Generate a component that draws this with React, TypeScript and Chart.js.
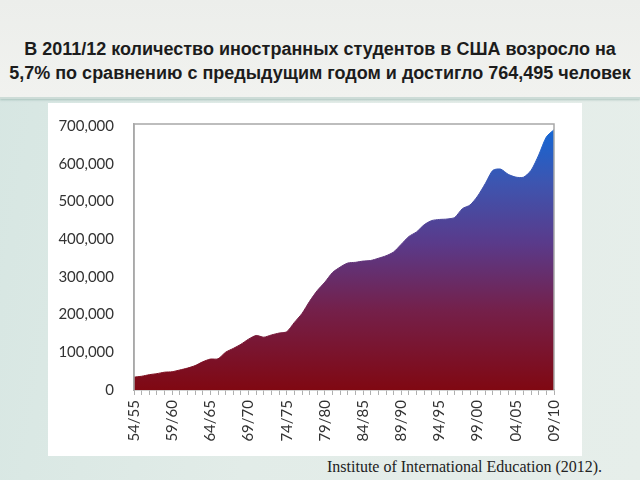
import React, { useEffect, useRef } from "react";
import { Chart, registerables } from "chart.js";

Chart.register(...registerables);

const years: string[] = [
  "54/55","55/56","56/57","57/58","58/59","59/60","60/61","61/62","62/63","63/64",
  "64/65","65/66","66/67","67/68","68/69","69/70","70/71","71/72","72/73","73/74",
  "74/75","75/76","76/77","77/78","78/79","79/80","80/81","81/82","82/83","83/84",
  "84/85","85/86","86/87","87/88","88/89","89/90","90/91","91/92","92/93","93/94",
  "94/95","95/96","96/97","97/98","98/99","99/00","00/01","01/02","02/03","03/04",
  "04/05","05/06","06/07","07/08","08/09","09/10",
];

const students: number[] = [
  34232, 36494, 40666, 43391, 47245, 48486, 53107, 58086, 64705, 74814,
  82045, 82709, 100262, 110315, 121362, 134959, 144708, 140126, 146097, 151066,
  154580, 179344, 203068, 235509, 263938, 286343, 311882, 326299, 336985, 338894,
  342113, 343777, 349609, 356187, 366354, 386851, 407529, 419585, 438618, 449749,
  452635, 453787, 457984, 481280, 490933, 514723, 547867, 582996, 586323, 572509,
  565039, 564766, 582984, 623805, 671616, 690923,
];

const yTicks: number[] = [0, 100000, 200000, 300000, 400000, 500000, 600000, 700000];

const titleLines: string[] = [
  "В 2011/12 количество иностранных студентов в США возросло на",
  "5,7% по сравнению с предыдущим годом и достигло 764,495 человек",
];
const sourceText = "Institute of International Education (2012).";

const tickFont = { family: "Lato, 'Open Sans', sans-serif", size: 15 };

export default function App() {
  const canvasRef = useRef<HTMLCanvasElement | null>(null);

  useEffect(() => {
    const canvas = canvasRef.current;
    if (!canvas) return;

    const makeGradient = (chart: any) => {
      const { ctx, chartArea } = chart;
      if (!chartArea) return "#7a1020";
      const g = ctx.createLinearGradient(0, chartArea.bottom, 0, chartArea.top);
      g.addColorStop(0, "#800812");
      g.addColorStop(0.3, "#74204a");
      g.addColorStop(0.55, "#5a3a8a");
      g.addColorStop(0.78, "#3d55b0");
      g.addColorStop(1, "#1068d8");
      return g;
    };

    const frame = {
      id: "frame",
      afterDatasetsDraw(chart: any) {
        const { ctx, chartArea } = chart;
        ctx.save();
        ctx.strokeStyle = "#a8a8a8";
        ctx.lineWidth = 1.5;
        ctx.beginPath();
        ctx.moveTo(chartArea.left, chartArea.bottom);
        ctx.lineTo(chartArea.left, chartArea.top);
        ctx.lineTo(chartArea.right, chartArea.top);
        ctx.lineTo(chartArea.right, chartArea.bottom);
        ctx.stroke();
        ctx.restore();
      },
    };

    const chart = new Chart(canvas, {
      type: "line",
      data: {
        labels: years,
        datasets: [
          {
            data: students,
            fill: "origin",
            backgroundColor: (c: any) => makeGradient(c.chart),
            borderColor: (c: any) => makeGradient(c.chart),
            borderWidth: 1,
            pointRadius: 0,
            tension: 0.25,
          },
        ],
      },
      options: {
        animation: false,
        responsive: false,
        maintainAspectRatio: false,
        layout: { padding: { top: 13, right: 28, left: 0, bottom: 0 } },
        plugins: {
          legend: { display: false },
          tooltip: { enabled: false },
          title: { display: false },
        },
        scales: {
          x: {
            type: "category",
            offset: false,
            grid: {
              display: true,
              drawOnChartArea: false,
              drawTicks: true,
              tickLength: 5,
              color: "#b0b0b0",
            },
            border: { display: true, color: "#a8a8a8", width: 1.5 },
            ticks: {
              autoSkip: false,
              maxRotation: 90,
              minRotation: 90,
              padding: 5,
              color: "#333333",
              font: tickFont,
              callback: (_v: any, i: number) => (i % 5 === 0 ? years[i] : ""),
            },
            afterFit: (scale: any) => {
              scale.height = 66;
            },
          },
          y: {
            min: 0,
            max: 706000,
            grid: { display: false },
            border: { display: true, color: "#a8a8a8", width: 1.5 },
            afterBuildTicks: (scale: any) => {
              scale.ticks = yTicks.map((v) => ({ value: v }));
            },
            ticks: {
              padding: 12,
              color: "#333333",
              font: tickFont,
              callback: (v: any) => Number(v).toLocaleString("en-US"),
            },
            afterFit: (scale: any) => {
              scale.width = 86;
            },
          },
        },
      },
      plugins: [frame],
    });

    return () => chart.destroy();
  }, []);

  return (
    <div
      style={{
        position: "fixed",
        left: 0,
        top: 0,
        width: 640,
        height: 480,
        overflow: "hidden",
        background: "linear-gradient(100deg, #d6e6e2 0%, #e2ece8 45%, #e6eeea 100%)",
      }}
    >
      <div
        style={{
          position: "absolute",
          left: 0,
          top: 0,
          width: 640,
          height: 97,
          background: "linear-gradient(180deg, #eceeeb 0%, #f1f2ef 100%)",
          borderBottom: "2px solid #cddcd7",
          boxShadow: "0 1px 2px rgba(120,160,150,0.5)",
        }}
      >
        <div
          style={{
            position: "absolute",
            left: 0,
            top: 37,
            width: 640,
            textAlign: "center",
            fontFamily: "'Liberation Sans', Arial, sans-serif",
            fontWeight: "bold",
            fontSize: 18,
            lineHeight: "24px",
            color: "#1c1c1c",
            whiteSpace: "nowrap",
          }}
        >
          {titleLines.map((t, i) => (
            <div key={i}>{t}</div>
          ))}
        </div>
      </div>
      <div
        style={{
          position: "absolute",
          left: 48,
          top: 103,
          width: 534,
          height: 353,
          background: "#ffffff",
        }}
      >
        <canvas ref={canvasRef} width={534} height={353} style={{ display: "block" }} />
      </div>
      <div
        style={{
          position: "absolute",
          left: 327,
          top: 457,
          fontFamily: "'Liberation Serif', 'Times New Roman', serif",
          fontSize: 16,
          lineHeight: "19px",
          color: "#222222",
          whiteSpace: "nowrap",
        }}
      >
        {sourceText}
      </div>
    </div>
  );
}
